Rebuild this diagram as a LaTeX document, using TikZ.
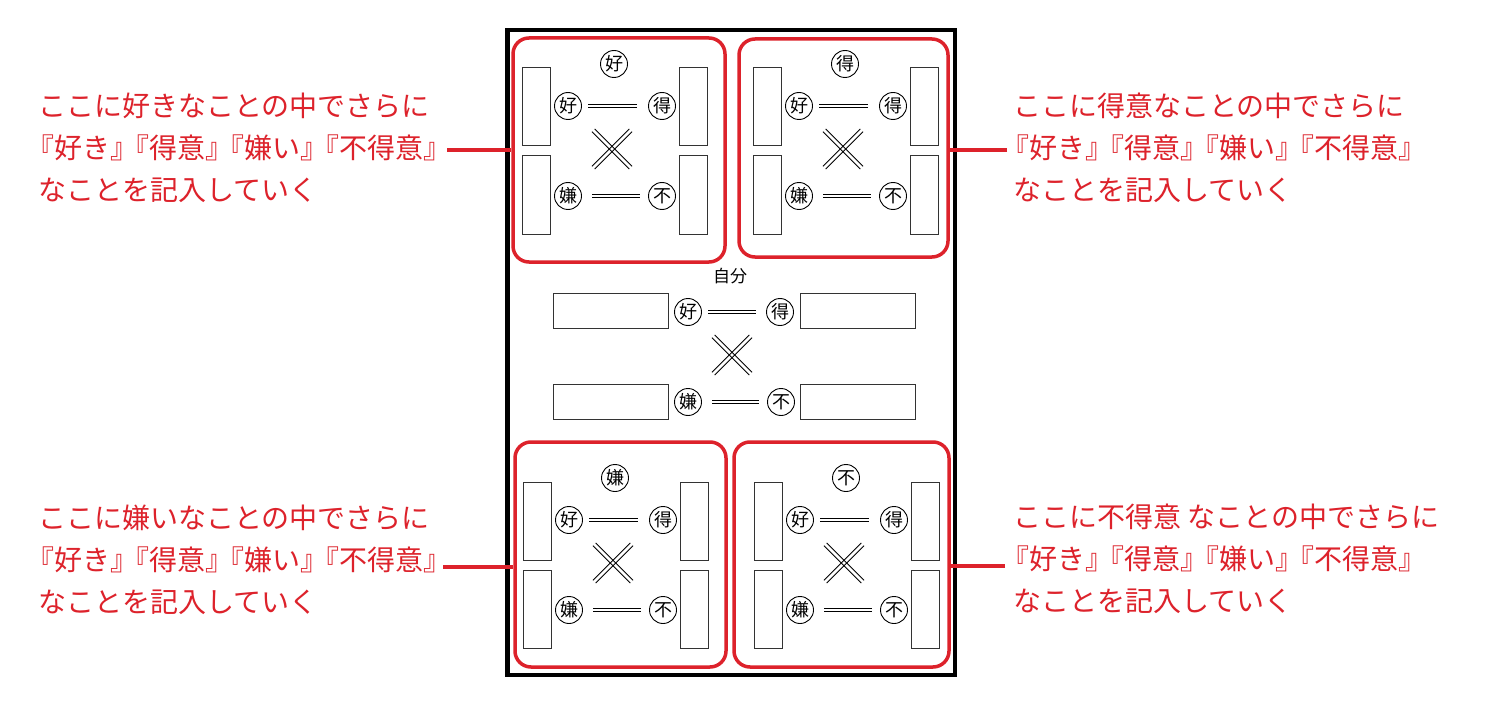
\documentclass[tikz,border=0pt]{standalone}
\usepackage{fontspec}
\newfontfamily\jp{Noto Sans CJK JP}
\definecolor{myred}{RGB}{221,34,43}
\newcommand\jlb{\kern-8.5pt『}
\newcommand\jrb{』\kern-8.5pt}
\tikzset{
 frame/.style={draw=black, line width=4.5pt, inner sep=0pt},
 panelbox/.style={draw=myred, line width=3.5pt, rounded corners=16pt, inner sep=0pt},
 circ/.style={circle, draw=black, line width=0.9pt, minimum size=27pt, inner sep=0pt, font=\jp\fontsize{18}{18}\selectfont},
 vbox/.style={draw=black!80, line width=1pt, minimum width=28pt, minimum height=78pt, inner sep=0pt},
 hbox/.style={draw=black!80, line width=1pt, minimum width=115pt, minimum height=35pt, inner sep=0pt},
 dline/.style={double=white, draw=black, double distance=2.6pt, line width=0.9pt},
 dup/.style={dline, shorten <=6.5pt, shorten >=11pt},
 dlow/.style={dline, shorten <=10.5pt, shorten >=8pt},
 xline/.style={draw=black, line width=0.9pt},
 crossbox/.style={minimum size=37pt, inner sep=0pt},
 note/.style={text=myred, font=\jp\fontsize{28}{42}\selectfont, align=left, inner sep=0pt},
 lead/.style={draw=myred, line width=3.5pt},
 selflabel/.style={font=\jp\fontsize{17}{17}\selectfont, inner sep=0pt},
}
\newcommand\drawcross[1]{%
 \draw[xline] ([shift={(1.4,-1.4)}]#1.north west) -- ([shift={(1.4,-1.4)}]#1.south east);
 \draw[xline] ([shift={(-1.4,1.4)}]#1.north west) -- ([shift={(-1.4,1.4)}]#1.south east);
 \draw[xline] ([shift={(1.4,1.4)}]#1.north east) -- ([shift={(1.4,1.4)}]#1.south west);
 \draw[xline] ([shift={(-1.4,-1.4)}]#1.north east) -- ([shift={(-1.4,-1.4)}]#1.south west);
}
\newcommand\mypanel[4]{%
 \begin{scope}[shift={(#2,#3)}]
  \node[circ] (#1t) at (92,-4) {#4};
  \node[vbox] (#1la) at (14,39) {};
  \node[vbox] (#1lb) at (14,127) {};
  \node[vbox] (#1ra) at (171,39) {};
  \node[vbox] (#1rb) at (171,127) {};
  \node[circ] (#1k) at (46,38) {好};
  \node[circ] (#1e) at (140,38) {得};
  \node[circ] (#1i) at (46,128) {嫌};
  \node[circ] (#1f) at (140,128) {不};
  \node[crossbox] (#1x) at (90,81) {};
  \draw[dup] (#1k) -- (#1e);
  \draw[dlow] (#1i) -- (#1f);
  \drawcross{#1x}
 \end{scope}}
\begin{document}
\begin{tikzpicture}[x=1pt,y=-1pt]
\useasboundingbox[fill=white] (0,0) rectangle (1485,714);
% outer frame
\node[frame, minimum width=447.5pt, minimum height=645pt] (frame) at (731.25,352.5) {};
% red panels
\node[panelbox, minimum width=212pt, minimum height=224pt] (tlp) at (619,150) {};
\node[panelbox, minimum width=209pt, minimum height=218pt] (trp) at (843.5,148) {};
\node[panelbox, minimum width=211pt, minimum height=225pt] (blp) at (620.5,554.5) {};
\node[panelbox, minimum width=215pt, minimum height=225pt] (brp) at (841.5,554.5) {};
% panel contents
\mypanel{tl}{522}{68}{好}
\mypanel{tr}{753}{68}{得}
\mypanel{bl}{523}{482}{嫌}
\mypanel{br}{754}{482}{不}
% centre
\node[selflabel] (self) at (730,276) {自分};
\node[hbox] (cla) at (610.5,310.5) {};
\node[hbox] (cra) at (857.5,310.5) {};
\node[hbox] (clb) at (610.5,401.5) {};
\node[hbox] (crb) at (857.5,401.5) {};
\node[circ] (ck) at (688,312) {好};
\node[circ] (ce) at (780,312) {得};
\node[circ] (ci) at (688,402) {嫌};
\node[circ] (cf) at (781,402) {不};
\node[crossbox] (cx) at (732,355) {};
\draw[dline, shorten <=6.5pt, shorten >=10.5pt] (ck) -- (ce);
\draw[dlow] (ci) -- (cf);
\drawcross{cx}
% notes
\node[note, anchor=west] (tln) at (38,148) {ここに好きなことの中でさらに\\\null\kern-3pt\jlb 好き\jrb\jlb 得意\jrb\jlb 嫌い\jrb\jlb 不得意\jrb\\なことを記入していく};
\node[note, anchor=west] (trn) at (1013,148) {ここに得意なことの中でさらに\\\null\kern-3pt\jlb 好き\jrb\jlb 得意\jrb\jlb 嫌い\jrb\jlb 不得意\jrb\\なことを記入していく};
\node[note, anchor=west] (bln) at (38,560) {ここに嫌いなことの中でさらに\\\null\kern-3pt\jlb 好き\jrb\jlb 得意\jrb\jlb 嫌い\jrb\jlb 不得意\jrb\\なことを記入していく};
\node[note, anchor=west] (brn) at (1013,559) {ここに不得意 なことの中でさらに\\\null\kern-3pt\jlb 好き\jrb\jlb 得意\jrb\jlb 嫌い\jrb\jlb 不得意\jrb\\なことを記入していく};
% leads
\coordinate (tlend) at (447,150);
\coordinate (trend) at (1007,150);
\coordinate (blend) at (443,567);
\coordinate (brend) at (1005,566);
\draw[lead] (tlend) -- (tlp.west |- tlend);
\draw[lead] (trend) -- (trp.east |- trend);
\draw[lead] (blend) -- (blp.west |- blend);
\draw[lead] (brend) -- (brp.east |- brend);
\end{tikzpicture}
\end{document}
